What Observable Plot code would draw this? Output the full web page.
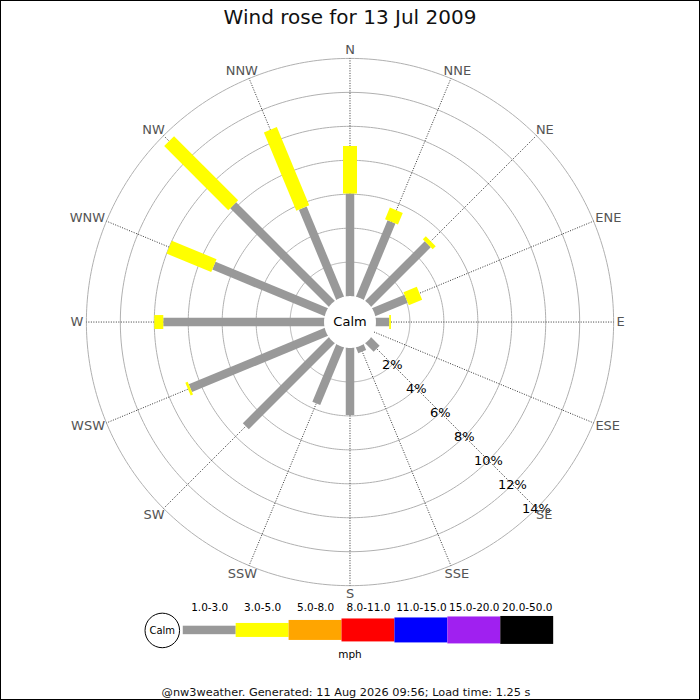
<!DOCTYPE html>
<html>
<head>
<meta charset="utf-8">
<script src="https://cdn.jsdelivr.net/npm/d3@7"></script>
<script src="https://cdn.jsdelivr.net/npm/@observablehq/plot@0.6"></script>
<style>
html, body { margin: 0; padding: 0; background: #fff; }
#frame { position: relative; width: 700px; height: 700px; box-sizing: border-box; border: 1px solid #000; overflow: hidden; background: #fff; font-family: "DejaVu Sans", sans-serif; }
#title { position: absolute; left: -1px; top: 6px; width: 700px; text-align: center; font-size: 20px; line-height: 20px; color: #111; white-space: nowrap; }
#rose { position: absolute; left: -1px; top: -1px; }
#legend { position: absolute; left: -1px; top: 594px; }
#footer { position: absolute; left: -5px; top: 686px; width: 700px; text-align: center; font-size: 11.3px; line-height: 11px; color: #111; white-space: nowrap; }
</style>
</head>
<body>
<div id="frame">
  <div id="title">Wind rose for 13 Jul 2009</div>
  <div id="rose"></div>
  <div id="legend"></div>
  <div id="footer">@nw3weather. Generated: 11 Aug 2026 09:56; Load time: 1.25 s</div>
</div>
<script>
// ---------------- data ----------------
const directions = ["N","NNE","NE","ENE","E","ESE","SE","SSE","S","SSW","SW","WSW","W","WNW","NW","NNW"];
const speedBins  = ["1.0-3.0","3.0-5.0","5.0-8.0","8.0-11.0","11.0-15.0","15.0-20.0","20.0-50.0"];
// percentage of time per direction, per speed bin (mph)
const pct_1_3   = [6.04,4.86,4.95,2.05,0.78,0,0.69,0.35,3.94,3.66,7.15,8.65,9.47,7.15,8.20,5.74];
const pct_3_5   = [2.80,0.74,0.25,0.85,0.10,0,0,0,0,0,0,0.15,0.53,2.85,5.34,4.99];
const pct_5_8   = [0,0,0,0,0,0,0,0,0,0,0,0,0,0,0,0];
const pct_8_11  = [0,0,0,0,0,0,0,0,0,0,0,0,0,0,0,0];
const pct_11_15 = [0,0,0,0,0,0,0,0,0,0,0,0,0,0,0,0];
const pct_15_20 = [0,0,0,0,0,0,0,0,0,0,0,0,0,0,0,0];
const pct_20_50 = [0,0,0,0,0,0,0,0,0,0,0,0,0,0,0,0];
const ringTicks = [2,4,6,8,10,12,14];

// ---------------- styles ----------------
const binColors = ["#999999","#ffff00","#ffa500","#ff0000","#0000ff","#a020f0","#000000"];
const binWidths = [8.5,14,20,23,25,27,28];

// ---------------- geometry ----------------
const series = [pct_1_3, pct_3_5, pct_5_8, pct_8_11, pct_11_15, pct_15_20, pct_20_50];
const k = 17;              // px per percent
const cx = 350, cy = 322;  // centre of rose in px
const calm0 = 26 / k;      // calm circle radius in percent units
const maxTick = d3.max(ringTicks);
const rad = i => i * Math.PI / 8;
const pol = (R, a) => ({x: R * Math.sin(a), y: R * Math.cos(a)});

const segments = [];
directions.forEach((dir, i) => {
  let base = calm0;
  series.forEach((s, b) => {
    const v = s[i];
    if (v > 0) {
      const a = rad(i);
      const p1 = pol(base === calm0 ? 0 : base, a), p2 = pol(base + v, a);
      segments.push({dir, bin: b, x1: p1.x, y1: p1.y, x2: p2.x, y2: p2.y});
      base += v;
    }
  });
});

const ringPts = [];
ringTicks.forEach(t => {
  for (let d = 0; d <= 360; d += 1) {
    const p = pol(calm0 + t, d * Math.PI / 180);
    ringPts.push({t, x: p.x, y: p.y});
  }
});
const calmPts = d3.range(0, 361, 2).map(d => pol(calm0, d * Math.PI / 180));

const spokes = directions.map((dir, i) => {
  const a = rad(i), p1 = pol(calm0, a), p2 = pol(calm0 + maxTick, a);
  return {dir, x1: p1.x, y1: p1.y, x2: p2.x, y2: p2.y};
});

const ctx = document.createElement("canvas").getContext("2d");
ctx.font = "13px 'DejaVu Sans'";
const r0 = (calm0 + maxTick) * k + 3;
const labels = directions.map((dir, i) => {
  const a = rad(i), s = Math.sin(a), c = Math.cos(a);
  const hw = ctx.measureText(dir).width / 2, hh = 5.5;
  return {dir, x: (r0 * s + hw * s) / k, y: (r0 * c + hh * c) / k};
});

const roseMarks = [
  Plot.line(ringPts, {x: "x", y: "y", z: "t", stroke: "#b0b0b0", strokeWidth: 1}),
  Plot.link(spokes, {x1: "x1", y1: "y1", x2: "x2", y2: "y2", stroke: "#333", strokeWidth: 1, strokeDasharray: "1,1.5"})
];
speedBins.forEach((bin, b) => {
  roseMarks.push(Plot.link(segments.filter(d => d.bin === b), {
    x1: "x1", y1: "y1", x2: "x2", y2: "y2",
    stroke: binColors[b], strokeWidth: binWidths[b], strokeLinecap: "butt"
  }));
});
roseMarks.push(
  Plot.line(calmPts, {x: "x", y: "y", fill: "white", stroke: "none"}),
  Plot.text(["Calm"], {x: () => 0, y: () => 0, fontSize: 13, fill: "#000"}),
  Plot.text(ringTicks, {x: t => (calm0 + t) * Math.SQRT1_2, y: t => -(calm0 + t) * Math.SQRT1_2, text: t => t + "%", fontSize: 13, fill: "#000"}),
  Plot.text(labels, {x: "x", y: "y", text: "dir", fontSize: 13, fill: "#555"})
);

const rose = Plot.plot({
  width: 700, height: 600, margin: 0,
  x: {domain: [-cx / k, (700 - cx) / k], axis: null},
  y: {domain: [(cy - 600) / k, cy / k], axis: null},
  style: {fontFamily: "DejaVu Sans", background: "transparent", overflow: "visible"},
  marks: roseMarks
});
document.getElementById("rose").appendChild(rose);

const legend = Plot.plot({
  width: 700, height: 70, margin: 0,
  x: {type: "band", domain: speedBins, range: [180, 556], padding: 0, axis: null},
  y: {domain: [-35, 35], axis: null},
  color: {type: "identity"},
  style: {fontFamily: "DejaVu Sans", background: "transparent", overflow: "visible"},
  marks: [
    Plot.barY(speedBins, {x: d => d, y1: (d, i) => -binWidths[i] / 2, y2: (d, i) => binWidths[i] / 2, fill: (d, i) => binColors[i]}),
    Plot.text(speedBins, {x: d => d, frameAnchor: "top", lineAnchor: "middle", dy: 12.5, fontSize: 10.5, fill: "#000"}),
    Plot.text(["mph"], {frameAnchor: "middle", dy: 24, fontSize: 10.5, fill: "#000"}),
    Plot.dot([0], {frameAnchor: "left", dx: 162, r: 17.3, fill: "white", stroke: "#000", strokeWidth: 1}),
    Plot.text(["Calm"], {frameAnchor: "left", textAnchor: "middle", dx: 162, fontSize: 10, fill: "#000"})
  ]
});
document.getElementById("legend").appendChild(legend);
</script>
</body>
</html>
